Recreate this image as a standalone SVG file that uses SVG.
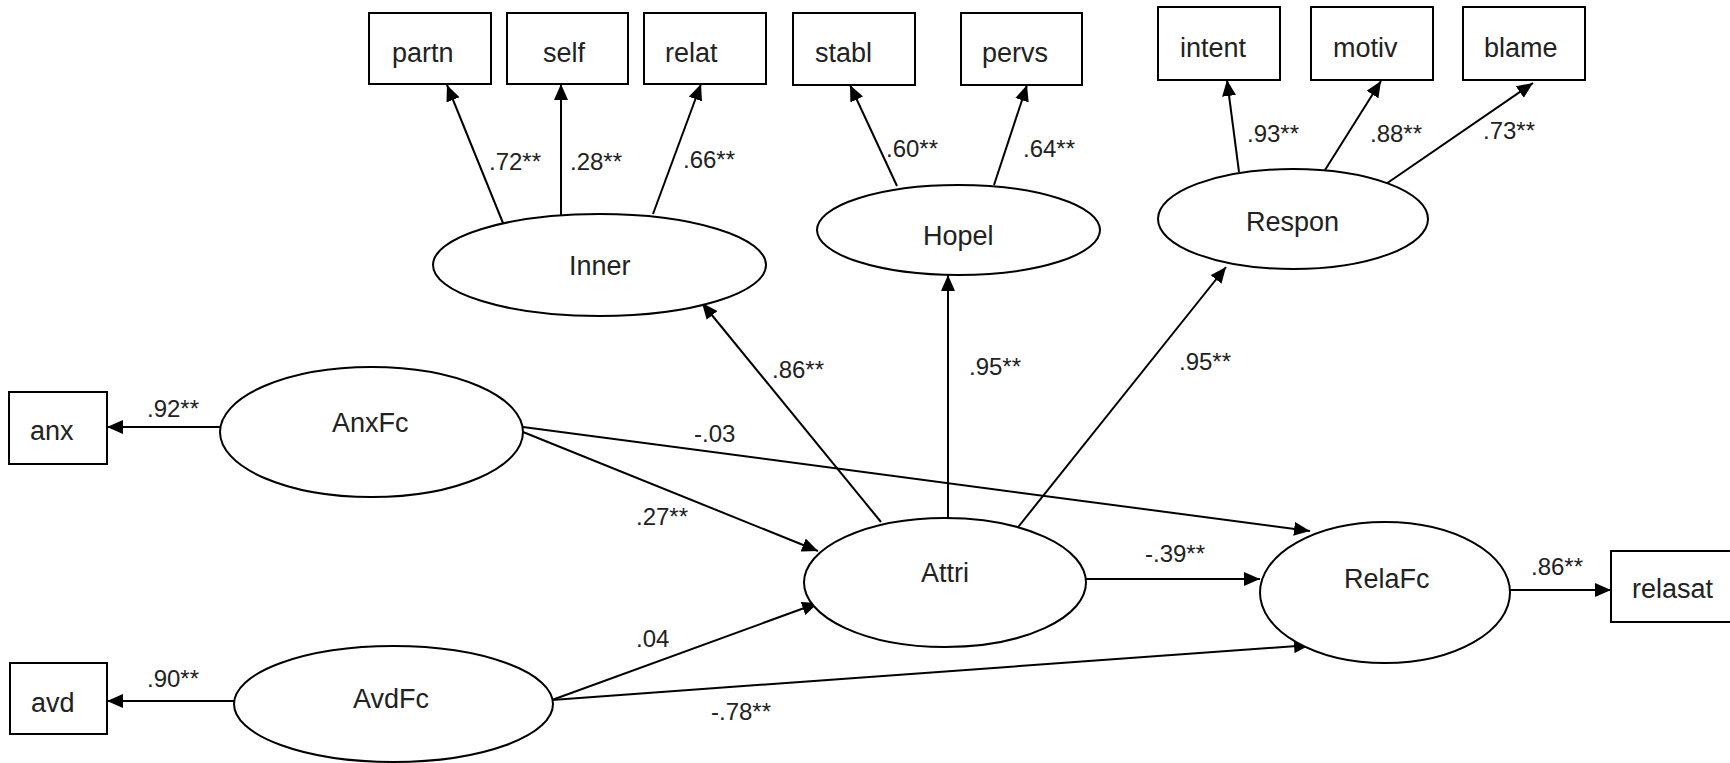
<svg xmlns="http://www.w3.org/2000/svg" width="1730" height="763" viewBox="0 0 1730 763">
<style>
.box{fill:#fff;stroke:#000;stroke-width:2}
.lat{fill:#fff;stroke:#000;stroke-width:2}
.nt{font-family:"Liberation Sans",Arial,sans-serif;font-size:27px;fill:#222}
.lt{font-family:"Liberation Sans",Arial,sans-serif;font-size:24px;fill:#222}
.cn line{stroke:#000;stroke-width:2;marker-end:url(#ah)}
</style>
<defs>
<marker id="ah" markerUnits="userSpaceOnUse" markerWidth="16" markerHeight="14" refX="16" refY="7" orient="auto">
<path d="M0,0 L16,7 L0,14 z" fill="#000"/>
</marker>
</defs>
<rect width="1730" height="763" fill="#fff"/>
<g id="connectors" class="cn">
<line x1="505" y1="228" x2="447" y2="85"/>
<line x1="561" y1="215" x2="561" y2="84"/>
<line x1="653" y1="214" x2="701" y2="84"/>
<line x1="897" y1="186" x2="850" y2="85"/>
<line x1="994" y1="185" x2="1027" y2="85"/>
<line x1="1239" y1="172" x2="1227" y2="80"/>
<line x1="1325" y1="170" x2="1381" y2="81"/>
<line x1="1383" y1="186" x2="1533" y2="83"/>
<line x1="220" y1="427" x2="107" y2="427"/>
<line x1="234" y1="701" x2="107" y2="701"/>
<line x1="881" y1="522" x2="702" y2="303"/>
<line x1="948" y1="518" x2="948" y2="275"/>
<line x1="1015" y1="531" x2="1226" y2="267"/>
<line x1="523" y1="432" x2="818" y2="551"/>
<line x1="523" y1="427" x2="1310" y2="531"/>
<line x1="552" y1="700" x2="818" y2="603"/>
<line x1="552" y1="700" x2="1310" y2="645"/>
<line x1="1086" y1="579" x2="1260" y2="579"/>
<line x1="1510" y1="590" x2="1611" y2="590"/>
</g>
<g id="labels" class="lt">
<text x="489" y="170">.72**</text>
<text x="570" y="170">.28**</text>
<text x="683" y="168">.66**</text>
<text x="886" y="157">.60**</text>
<text x="1023" y="157">.64**</text>
<text x="1247" y="142">.93**</text>
<text x="1370" y="142">.88**</text>
<text x="1483" y="139">.73**</text>
<text x="147" y="417">.92**</text>
<text x="147" y="687">.90**</text>
<text x="772" y="378">.86**</text>
<text x="969" y="375">.95**</text>
<text x="1179" y="370">.95**</text>
<text x="694" y="442">-.03</text>
<text x="636" y="525">.27**</text>
<text x="636" y="647">.04</text>
<text x="711" y="720">-.78**</text>
<text x="1145" y="562">-.39**</text>
<text x="1531" y="575">.86**</text>
</g>
<g id="partn"><rect class="box" x="369" y="13" width="122" height="71"/><text class="nt" x="392" y="62">partn</text></g>
<g id="self"><rect class="box" x="507" y="13" width="121" height="71"/><text class="nt" x="543" y="62">self</text></g>
<g id="relat"><rect class="box" x="644" y="13" width="122" height="71"/><text class="nt" x="665" y="62">relat</text></g>
<g id="stabl"><rect class="box" x="793" y="13" width="122" height="72"/><text class="nt" x="815" y="62">stabl</text></g>
<g id="pervs"><rect class="box" x="961" y="13" width="121" height="72"/><text class="nt" x="982" y="62">pervs</text></g>
<g id="intent"><rect class="box" x="1158" y="7" width="122" height="73"/><text class="nt" x="1180" y="57">intent</text></g>
<g id="motiv"><rect class="box" x="1311" y="7" width="122" height="73"/><text class="nt" x="1333" y="57">motiv</text></g>
<g id="blame"><rect class="box" x="1463" y="7" width="122" height="73"/><text class="nt" x="1484" y="57">blame</text></g>
<g id="Inner"><ellipse class="lat" cx="599.5" cy="265" rx="166.5" ry="51"/><text class="nt" x="569" y="275">Inner</text></g>
<g id="Hopel"><ellipse class="lat" cx="958.5" cy="230" rx="141.5" ry="45"/><text class="nt" x="923" y="245">Hopel</text></g>
<g id="Respon"><ellipse class="lat" cx="1293" cy="219" rx="135" ry="50"/><text class="nt" x="1246" y="231">Respon</text></g>
<g id="anx"><rect class="box" x="9" y="392" width="98" height="72"/><text class="nt" x="30" y="440">anx</text></g>
<g id="AnxFc"><ellipse class="lat" cx="371.5" cy="432" rx="151.5" ry="65"/><text class="nt" x="332" y="432">AnxFc</text></g>
<g id="avd"><rect class="box" x="10" y="663" width="97" height="71"/><text class="nt" x="31" y="712">avd</text></g>
<g id="AvdFc"><ellipse class="lat" cx="393.5" cy="704" rx="159.5" ry="58"/><text class="nt" x="353" y="708">AvdFc</text></g>
<g id="Attri"><ellipse class="lat" cx="945" cy="582.5" rx="141" ry="64.5"/><text class="nt" x="921" y="582">Attri</text></g>
<g id="RelaFc"><ellipse class="lat" cx="1385" cy="592.5" rx="125" ry="70.5"/><text class="nt" x="1344" y="588">RelaFc</text></g>
<g id="relasat"><rect class="box" x="1611" y="551" width="130" height="71"/><text class="nt" x="1632" y="598">relasat</text></g>
</svg>
